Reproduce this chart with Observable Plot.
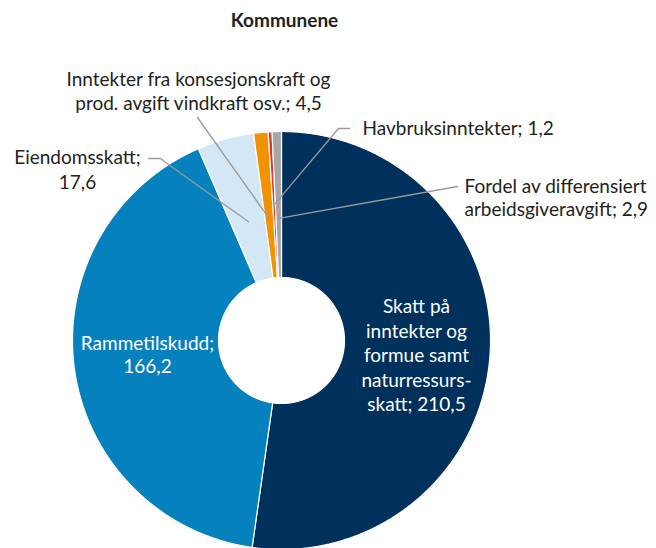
<!DOCTYPE html>
<html>
<head>
<meta charset="utf-8">
<script src="https://cdn.jsdelivr.net/npm/d3@7"></script>
<script src="https://cdn.jsdelivr.net/npm/@observablehq/plot@0.6"></script>
<style>
  html, body { margin: 0; padding: 0; background: #fff; }
  #chart svg { display: block; }
</style>
</head>
<body>
<div id="chart"></div>
<script>
// ---- Data ----
const title = "Kommunene";
const categories = [
  "Skatt på inntekter og formue samt naturressursskatt",
  "Rammetilskudd",
  "Eiendomsskatt",
  "Inntekter fra konsesjonskraft og prod. avgift vindkraft osv.",
  "Havbruksinntekter",
  "Fordel av differensiert arbeidsgiveravgift"
];
const values = [210.5, 166.2, 17.6, 4.5, 1.2, 2.9];
const labels = [
  "Skatt på\ninntekter og\nformue samt\nnaturressurs-\nskatt; 210,5",
  "Rammetilskudd;\n166,2",
  "Eiendomsskatt;\n17,6",
  "Inntekter fra konsesjonskraft og\nprod. avgift vindkraft osv.; 4,5",
  "Havbruksinntekter; 1,2",
  "Fordel av differensiert\narbeidsgiveravgift; 2,9"
];

// ---- Styles / layout ----
const colors = ["#00305c", "#0581bd", "#d3e7f7", "#f39200", "#e3342f", "#a6a6a6"];
const W = 656, H = 548;
const cx = 281, cy = 340, R = 209, r0 = 63;
const fontFamily = "Lato, 'Open Sans', sans-serif";
const fs = 19;
// label placement
const labelLayout = [
  {x: 416, y: 354, anchor: "middle", fill: "white", lh: 24.5, leader: null},
  {x: 147, y: 353.5, anchor: "middle", fill: "white", lh: 23, leader: null},
  {x: 77, y: 167.5, anchor: "middle", fill: "#231f20", lh: 25, leader: [[148, 158], [160, 158], [168, 164]], lr: 0.59},
  {x: 198, y: 90, anchor: "middle", fill: "#231f20", lh: 24, leader: [[197, 117]], lr: 0.585},
  {x: 362, y: 127, anchor: "start", fill: "#231f20", lh: 23, leader: [[349, 128], [338, 128]], lr: 0.65},
  {x: 464, y: 196.5, anchor: "start", fill: "#231f20", lh: 23, leader: [[457, 186]], lr: 0.585}
];

// ---- Build slice geometry from data ----
const data = categories.map((c, i) => ({name: c, value: values[i]}));
const arcs = d3.pie().sort(null).value(d => d.value)(data);
const px = (a, rad) => cx + rad * Math.sin(a);
const py = (a, rad) => cy - rad * Math.cos(a);
const slicePts = [];
arcs.forEach(a => {
  const n = Math.max(4, Math.ceil((a.endAngle - a.startAngle) / (Math.PI / 720)));
  for (let k = 0; k <= n; k++) {
    const t = a.startAngle + (a.endAngle - a.startAngle) * k / n;
    slicePts.push({name: a.data.name, x: px(t, R), y: py(t, R)});
  }
  for (let k = n; k >= 0; k--) {
    const t = a.startAngle + (a.endAngle - a.startAngle) * k / n;
    slicePts.push({name: a.data.name, x: px(t, r0), y: py(t, r0)});
  }
});

// leader lines
const leaderPts = [];
arcs.forEach((a, i) => {
  const L = labelLayout[i];
  if (!L.leader) return;
  L.leader.forEach(p => leaderPts.push({name: a.data.name, x: p[0], y: p[1]}));
  const mid = (a.startAngle + a.endAngle) / 2;
  leaderPts.push({name: a.data.name, x: px(mid, R * L.lr), y: py(mid, R * L.lr)});
});

const labelRows = arcs.map((a, i) => ({text: labels[i], ...labelLayout[i]}));

const marks = [
  Plot.line(slicePts, {x: "x", y: "y", z: "name", fill: "name", stroke: "white", strokeWidth: 1.2, curve: "linear-closed"}),
  Plot.line(leaderPts, {x: "x", y: "y", z: "name", stroke: "#9a9a9a", strokeWidth: 1.3})
];
labelRows.forEach(L => {
  marks.push(Plot.text([L], {x: "x", y: "y", text: "text", textAnchor: L.anchor, lineAnchor: "middle",
    fill: L.fill, fontSize: fs, lineHeight: L.lh / fs, fontFamily}));
});
marks.push(Plot.text([title], {x: 284, y: 20, text: d => d, fontWeight: "bold", fontSize: 19, fill: "#231f20", fontFamily}));

const chart = Plot.plot({
  width: W, height: H,
  margin: 0,
  x: {domain: [0, W], range: [0, W], axis: null},
  y: {domain: [0, H], range: [0, H], axis: null},
  color: {domain: categories, range: colors},
  style: {background: "white"},
  marks
});
document.getElementById("chart").appendChild(chart);
</script>
</body>
</html>
